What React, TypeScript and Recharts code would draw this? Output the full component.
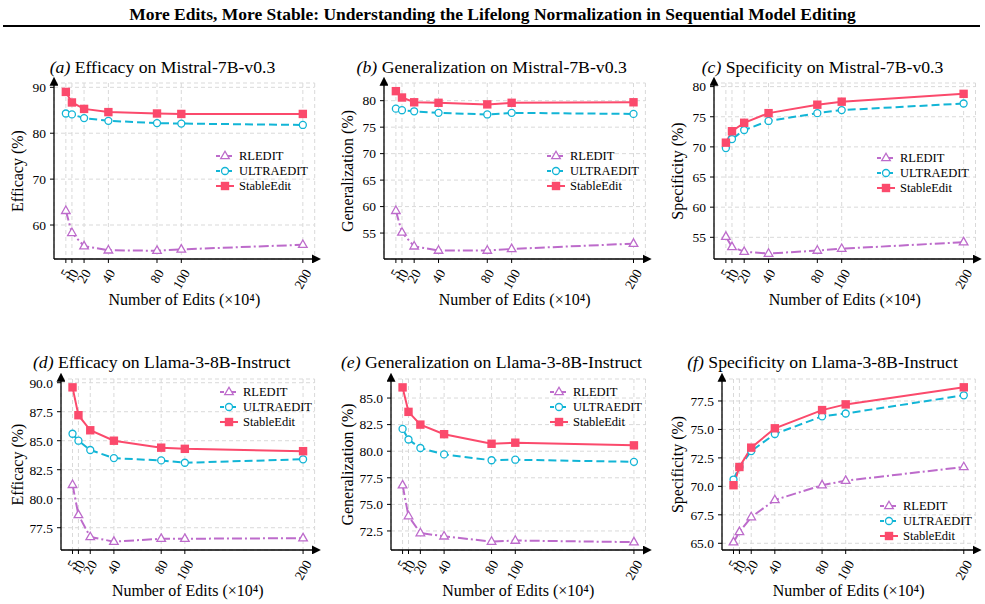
import React from "react";
import {
  LineChart, Line, XAxis, YAxis, CartesianGrid, Legend
} from "recharts";

const FONT = '"Liberation Serif", "Times New Roman", serif';

// x positions (number of edits, x10^4)
const edits = [5, 10, 20, 40, 80, 100, 200];

// Mistral-7B-v0.3
const mistralEffRL = [63.1, 58.3, 55.4, 54.5, 54.4, 54.7, 55.7];
const mistralEffUE = [84.3, 84.1, 83.3, 82.7, 82.2, 82.1, 81.8];
const mistralEffSE = [89.0, 86.7, 85.3, 84.6, 84.3, 84.2, 84.2];

const mistralGenRL = [59.2, 55.1, 52.5, 51.7, 51.7, 52.0, 53.0];
const mistralGenUE = [78.5, 78.2, 78.0, 77.7, 77.4, 77.7, 77.5];
const mistralGenSE = [81.8, 80.6, 79.7, 79.6, 79.3, 79.6, 79.7];

const mistralSpeRL = [55.1, 53.4, 52.6, 52.3, 52.8, 53.1, 54.2];
const mistralSpeUE = [69.8, 71.3, 72.8, 74.3, 75.6, 76.1, 77.2];
const mistralSpeSE = [70.7, 72.6, 74.0, 75.6, 77.0, 77.5, 78.8];

// Llama-3-8B-Instruct
const llamaEffRL = [81.2, 78.6, 76.7, 76.3, 76.55, 76.55, 76.6];
const llamaEffUE = [85.6, 85.0, 84.2, 83.5, 83.3, 83.1, 83.4];
const llamaEffSE = [89.6, 87.2, 85.9, 85.0, 84.4, 84.3, 84.1];

const llamaGenRL = [76.8, 73.9, 72.3, 72.0, 71.5, 71.6, 71.45];
const llamaGenUE = [82.1, 81.1, 80.3, 79.7, 79.15, 79.2, 79.0];
const llamaGenSE = [86.0, 83.7, 82.5, 81.6, 80.7, 80.8, 80.55];

const llamaSpeRL = [65.1, 66.0, 67.3, 68.8, 70.1, 70.5, 71.7];
const llamaSpeUE = [70.6, 71.7, 73.1, 74.6, 76.15, 76.4, 78.0];
const llamaSpeSE = [70.1, 71.7, 73.4, 75.1, 76.7, 77.2, 78.7];

// y tick labels
const ticksEffMistral = [60, 70, 80, 90];
const ticksFive = [55, 60, 65, 70, 75, 80];
const ticksEffLlama = [77.5, 80, 82.5, 85, 87.5, 90];
const ticksGenLlama = [72.5, 75, 77.5, 80, 82.5, 85];
const ticksSpeLlama = [65, 67.5, 70, 72.5, 75, 77.5];

const SERIES = [
  { key: "rl", name: "RLEDIT", color: "#BD6BCB", dash: "10 3 2 3", shape: "triangle" },
  { key: "ue", name: "ULTRAEDIT", color: "#12B5D6", dash: "8 4", shape: "circle" },
  { key: "se", name: "StableEdit", color: "#FB4A6C", dash: undefined, shape: "square" },
];

const YAW = 62; // y axis width
const XAH = 55; // x axis height
const MT = 10;
const MR = 8;

const panels = [
  { id: "a", tag: "(a)", title: "Efficacy on Mistral-7B-v0.3", yLabel: "Efficacy (%)",
    rl: mistralEffRL, ue: mistralEffUE, se: mistralEffSE, yTicks: ticksEffMistral, yDomain: [52.6, 90.94], dec: 0,
    box: [54.2, 314.9, 83, 259], legend: [216, 156], titleX: 162.5, titleY: 66.5, yLabOff: 37 },
  { id: "b", tag: "(b)", title: "Generalization on Mistral-7B-v0.3", yLabel: "Generalization (%)",
    rl: mistralGenRL, ue: mistralGenUE, se: mistralGenSE, yTicks: ticksFive, yDomain: [50.1, 83.34], dec: 0,
    box: [383.8, 645.2, 83, 259], legend: [547, 156], titleX: 491.7, titleY: 66.5, yLabOff: 37 },
  { id: "c", tag: "(c)", title: "Specificity on Mistral-7B-v0.3", yLabel: "Specificity (%)",
    rl: mistralSpeRL, ue: mistralSpeUE, se: mistralSpeSE, yTicks: ticksFive, yDomain: [51.4, 80.6], dec: 0,
    box: [714.4, 975.9, 83, 259], legend: [877, 158], titleX: 822.5, titleY: 66.5, yLabOff: 37 },
  { id: "d", tag: "(d)", title: "Efficacy on Llama-3-8B-Instruct", yLabel: "Efficacy (%)",
    rl: llamaEffRL, ue: llamaEffUE, se: llamaEffSE, yTicks: ticksEffLlama, yDomain: [75.58, 90.32], dec: 1,
    box: [61.2, 314.8, 379, 550], legend: [220, 392], titleX: 161.7, titleY: 361.7, yLabOff: 44 },
  { id: "e", tag: "(e)", title: "Generalization on Llama-3-8B-Instruct", yLabel: "Generalization (%)",
    rl: llamaGenRL, ue: llamaGenUE, se: llamaGenSE, yTicks: ticksGenLlama, yDomain: [70.71, 86.79], dec: 1,
    box: [391.1, 645.6, 379, 550], legend: [550, 392], titleX: 491.5, titleY: 361.7, yLabOff: 44 },
  { id: "f", tag: "(f)", title: "Specificity on Llama-3-8B-Instruct", yLabel: "Specificity (%)",
    rl: llamaSpeRL, ue: llamaSpeUE, se: llamaSpeSE, yTicks: ticksSpeLlama, yDomain: [64.41, 79.43], dec: 1,
    box: [722.2, 975.5, 379, 550], legend: [880, 506], titleX: 822.5, titleY: 361.7, yLabOff: 45 },
];

function MarkerShape({ cx, cy, shape, color }: any) {
  if (cx == null || cy == null) return null;
  if (shape === "square") {
    return <rect x={cx - 4.2} y={cy - 4.2} width={8.4} height={8.4} fill={color} />;
  }
  if (shape === "circle") {
    return <circle cx={cx} cy={cy} r={3.5} fill="#fff" stroke={color} strokeWidth={1.3} />;
  }
  return (
    <path
      d={`M${cx},${cy - 4.8} L${cx + 4.3},${cy + 2.7} L${cx - 4.3},${cy + 2.7} Z`}
      fill="#fff" stroke={color} strokeWidth={1.3} strokeLinejoin="miter"
    />
  );
}

function EditTick({ x, y, payload }: any) {
  const s = String(payload.value);
  const len = s.length * 6.7;
  const off = 2 + (len * 0.866 + 6.7) / 2;
  return (
    <g transform={`translate(${x},${y + off})`}>
      <text
        textAnchor="middle" dominantBaseline="central" transform="rotate(-60)"
        fontSize={13.5} style={{ fontFamily: FONT }} fill="#000"
      >
        {s}
      </text>
    </g>
  );
}

function LegendContent() {
  return (
    <div style={{ fontFamily: FONT, fontSize: 12.5, color: "#000" }}>
      {SERIES.map((s) => (
        <div key={s.key} style={{ display: "flex", alignItems: "center", height: 15 }}>
          <svg width={19} height={10} style={{ overflow: "visible" }}>
            <line x1={0} y1={5} x2={18} y2={5} stroke={s.color} strokeWidth={2} strokeDasharray={s.dash ? "4 2" : undefined} />
            <MarkerShape cx={9} cy={5} shape={s.shape} color={s.color} />
          </svg>
          <span style={{ marginLeft: 4, lineHeight: "15px" }}>{s.name}</span>
        </div>
      ))}
    </div>
  );
}

function Panel({ p }: any) {
  const [l, r, t, b] = p.box;
  const chartLeft = l - YAW;
  const chartTop = t - MT;
  const width = YAW + (r - l) + MR;
  const height = MT + (b - t) + XAH;
  const data = edits.map((x, i) => ({ x, rl: p.rl[i], ue: p.ue[i], se: p.se[i] }));
  const arrowId = `arrow-${p.id}`;
  const axisStyle = { stroke: "#000", strokeWidth: 1.3 };

  return (
    <>
      <div
        style={{
          position: "absolute", left: p.titleX, top: p.titleY, transform: "translate(-50%, -50%)",
          fontFamily: FONT, fontSize: 17.7, whiteSpace: "nowrap", color: "#000",
        }}
      >
        <i>{p.tag}</i> {p.title}
      </div>
      <div style={{ position: "absolute", left: chartLeft, top: chartTop, fontFamily: FONT }}>
        <LineChart
          width={width} height={height} data={data}
          margin={{ top: MT, right: MR, left: 0, bottom: 0 }}
          style={{ fontFamily: FONT }}
        >
          <defs>
            <marker
              id={arrowId} viewBox="0 0 10 10" refX="3" refY="5" markerWidth="9" markerHeight="9"
              markerUnits="userSpaceOnUse" orient="auto-start-reverse"
            >
              <path d="M0,0 L10,5 L0,10 Z" fill="#000" />
            </marker>
          </defs>
          <CartesianGrid stroke="#d9d9d9" strokeDasharray="4 3" />
          <XAxis
            type="number" dataKey="x" domain={[-4.75, 209.75]} ticks={edits}
            height={XAH} tickSize={4} tickMargin={2} interval={0}
            tickLine={{ stroke: "#000" }}
            axisLine={{ ...axisStyle, markerEnd: `url(#${arrowId})` }}
            tick={<EditTick />}
            label={{
              value: "Number of Edits (×10⁴)", position: "insideBottom", offset: 9,
              style: { fontFamily: FONT, fontSize: 16, fill: "#000" },
            }}
          />
          <YAxis
            type="number" domain={p.yDomain} ticks={p.yTicks} allowDataOverflow
            width={YAW} tickSize={4} tickMargin={4} interval={0}
            tickLine={{ stroke: "#000" }}
            axisLine={{ ...axisStyle, markerStart: `url(#${arrowId})` }}
            tick={{ fontSize: 13.5, fill: "#000", style: { fontFamily: FONT } }}
            tickFormatter={(v: number) => v.toFixed(p.dec)}
            label={{
              value: p.yLabel, angle: -90, position: "insideLeft", offset: YAW - p.yLabOff,
              style: { textAnchor: "middle", fontFamily: FONT, fontSize: 16, fill: "#000" },
            }}
          />
          <Legend
            layout="vertical" align="center" verticalAlign="middle"
            content={<LegendContent />}
            wrapperStyle={{ left: p.legend[0] - chartLeft, top: p.legend[1] - 7.5 - chartTop, width: "auto" }}
          />
          {SERIES.map((s) => (
            <Line
              key={s.key}
              type="linear"
              dataKey={s.key}
              name={s.name}
              stroke={s.color}
              strokeWidth={2}
              strokeDasharray={s.dash}
              isAnimationActive={false}
              dot={(props: any) => (
                <MarkerShape key={`${s.key}-${props.index}`} cx={props.cx} cy={props.cy} shape={s.shape} color={s.color} />
              )}
              activeDot={false}
            />
          ))}
        </LineChart>
      </div>
    </>
  );
}

export default function App() {
  return (
    <div style={{ position: "absolute", left: 0, top: 0, width: 985, height: 604, background: "#fff", overflow: "hidden" }}>
      <div
        style={{
          position: "absolute", left: 0, width: 985, top: 4, textAlign: "center",
          fontFamily: FONT, fontWeight: "bold", fontSize: 17.5, color: "#000", lineHeight: "20px",
        }}
      >
        More Edits, More Stable: Understanding the Lifelong Normalization in Sequential Model Editing
      </div>
      <div style={{ position: "absolute", left: 3, top: 24.5, width: 977, height: 2, background: "#000" }} />
      {panels.map((p) => (
        <Panel key={p.id} p={p} />
      ))}
    </div>
  );
}
